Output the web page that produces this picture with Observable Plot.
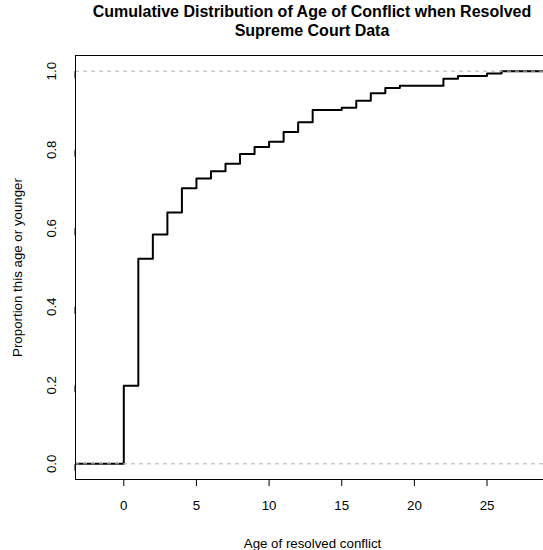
<!DOCTYPE html>
<html>
<head>
<meta charset="utf-8">
<script src="https://cdn.jsdelivr.net/npm/d3@7"></script>
<script src="https://cdn.jsdelivr.net/npm/@observablehq/plot@0.6"></script>
<style>
  html, body { margin: 0; padding: 0; background: #fff; }
  body { width: 543px; height: 550px; overflow: hidden; font-family: "Liberation Sans", Arial, Helvetica, sans-serif; }
  #title { height: 46px; box-sizing: border-box; padding-top: 2px; margin-left: 75px; width: 474px;
           text-align: center; font-weight: bold; font-size: 16px; line-height: 19px; color: #000; white-space: nowrap; }
</style>
</head>
<body>
<div id="title">Cumulative Distribution of Age of Conflict when Resolved<br>Supreme Court Data</div>
<div id="chart"></div>
<script>
// Knots of the empirical CDF (age of resolved conflict) and the cumulative proportion at each
const ages     = [0, 1, 2, 3, 4, 5, 6, 7, 8, 9, 10, 11, 12, 13, 15, 16, 17, 18, 19, 22, 23, 25, 26];
const cumProp  = [0.199, 0.522, 0.584, 0.640, 0.702, 0.727, 0.745, 0.764, 0.789, 0.807, 0.820, 0.845,
                  0.870, 0.901, 0.907, 0.925, 0.944, 0.957, 0.963, 0.981, 0.988, 0.994, 1.000];
const xTicks   = [0, 5, 10, 15, 20, 25];
const yTicks   = [0, 0.2, 0.4, 0.6, 0.8, 1.0];
const refLines = [0, 1];
const xDomain  = [-3.324, 29.3];
const yDomain  = [-0.04, 1.04];
const xTitle   = "Age of resolved conflict";
const yTitle   = "Proportion this age or younger";

// step function table, extended past both ends of the plotting region (clipped)
const steps = [{age: xDomain[0] - 1, p: 0}]
  .concat(ages.map((a, i) => ({age: a, p: cumProp[i]})))
  .concat([{age: xDomain[1] + 1, p: 1}]);

const chart = Plot.plot({
  width: 543,
  height: 504,
  marginLeft: 75,
  marginRight: -6,
  marginTop: 9,
  marginBottom: 71,
  style: {fontFamily: '"Liberation Sans", Arial, Helvetica, sans-serif', fontSize: "13.3px", color: "#000", background: "#fff"},
  x: {domain: xDomain, ticks: xTicks},
  y: {domain: yDomain, ticks: yTicks},
  marks: [
    Plot.line(steps, {x: "age", y: "p", curve: "step-after", stroke: "#000", strokeWidth: 2, clip: true}),
    Plot.ruleY(refLines, {stroke: "#b3b3b3", strokeWidth: 1, strokeDasharray: "4,4", clip: true}),
    Plot.frame({stroke: "#000", strokeWidth: 1}),
    Plot.axisX({ticks: xTicks, tickSize: 7, tickPadding: 14, label: null, anchor: "bottom", fontSize: 13.3}),
    Plot.axisY({ticks: yTicks, tickSize: 7, tickPadding: 17, label: null, anchor: "left", fontSize: 13.3,
                tickFormat: d3.format(".1f"), rotate: -90, textAnchor: "middle", lineAnchor: "middle"}),
    Plot.text([xTitle], {text: d => d, frameAnchor: "bottom", dy: 64, lineAnchor: "middle", fontSize: 13.3}),
    Plot.text([yTitle], {text: d => d, frameAnchor: "left", dx: -58, rotate: -90, textAnchor: "middle", lineAnchor: "middle", fontSize: 13.3})
  ]
});
document.getElementById("chart").appendChild(chart);
</script>
</body>
</html>
